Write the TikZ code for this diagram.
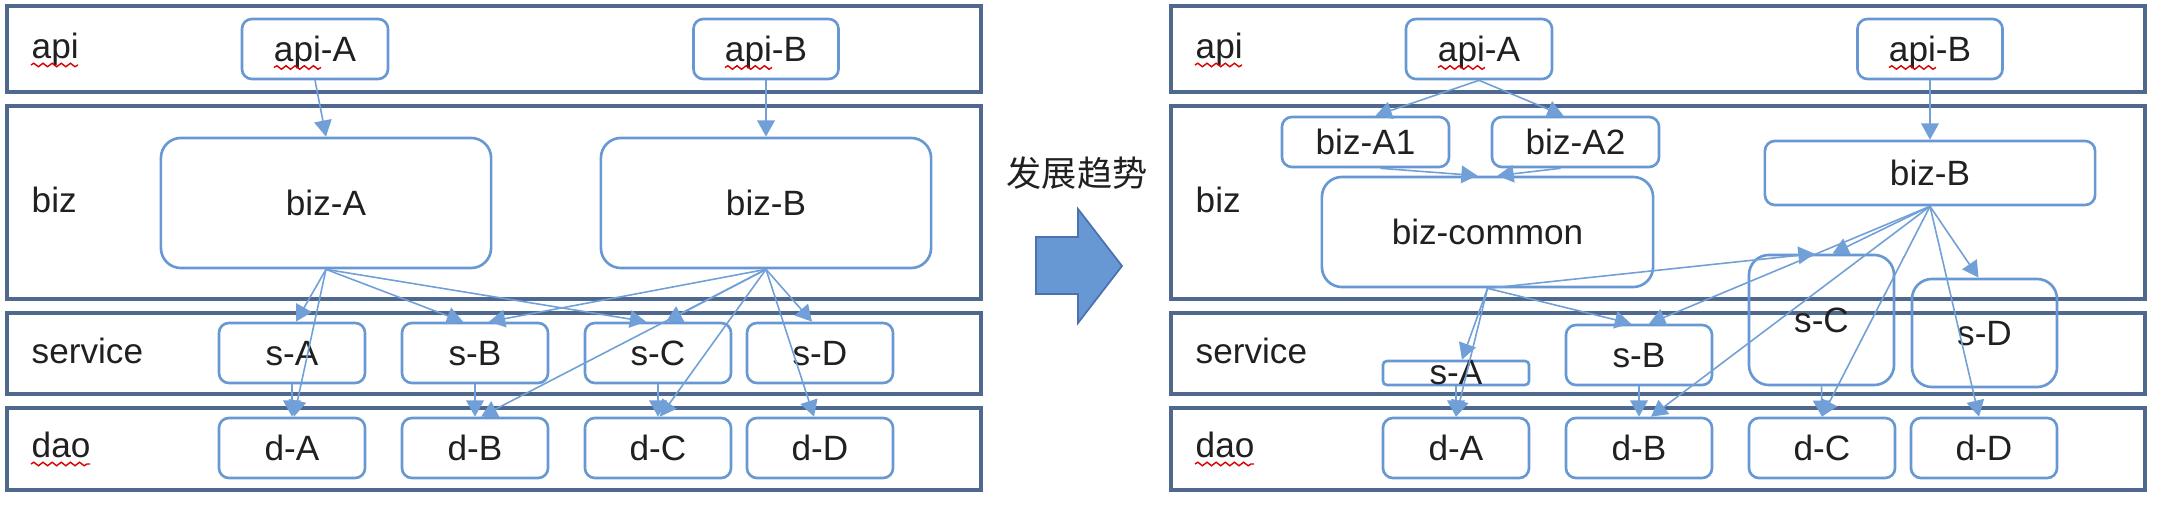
\documentclass[tikz,border=0pt]{standalone}
\usepackage{fontspec}
\setmainfont{Liberation Sans}
\newfontfamily\cjk{Noto Sans CJK SC}
\usepackage{tikz}
\usetikzlibrary{calc,arrows.meta,positioning,decorations.pathmorphing}
\definecolor{layerEdge}{RGB}{78,104,142}
\definecolor{modEdge}{RGB}{104,152,212}
\definecolor{flowBlue}{RGB}{112,160,215}
\definecolor{trendFill}{RGB}{104,152,212}
\definecolor{trendEdge}{RGB}{74,114,176}
\definecolor{txtGray}{RGB}{32,32,32}

\begin{document}
\begin{tikzpicture}[x=0.01cm,y=-0.01cm,
  layer/.style={draw=layerEdge, line width=1pt, minimum width=9.73cm, inner sep=0pt},
  mod/.style={draw=modEdge, line width=0.75pt, rounded corners=0.1cm, text=txtGray,
    text height=0.25cm, text depth=0pt, inner sep=0pt},
  bigmod/.style={mod, rounded corners=0.2cm},
  tag/.style={anchor=base west, inner sep=0pt, text=txtGray},
  flow/.style={draw=flowBlue, line width=0.45pt, -{Triangle[length=4.6pt,width=5pt]}},
  spell/.style={draw=red!85!black, line width=0.4pt, decorate,
    decoration={snake, amplitude=0.5pt, segment length=2.6pt}}]
\useasboundingbox (0,0) rectangle (2166,510);

% layers, labels and the rows both sides share
\foreach \s/\ox in {L/0,R/1164}{
  \node[layer, minimum height=0.86cm] (\s-api) at (494+\ox,49) {};
  \node[layer, minimum height=1.93cm] (\s-biz) at (494+\ox,202.5) {};
  \node[layer, minimum height=0.81cm] (\s-svc) at (494+\ox,353.5) {};
  \node[layer, minimum height=0.82cm] (\s-dao) at (494+\ox,449) {};
  \node[tag] (\s-tapi) at (31+\ox,59) {api};
  \node[tag] (\s-tbiz) at (31+\ox,213) {biz};
  \node[tag] (\s-tsvc) at (31+\ox,364) {service};
  \node[tag] (\s-tdao) at (31+\ox,458) {dao};
  \node[mod, minimum width=1.46cm, minimum height=0.6cm] (\s-apiA) at (315+\ox,49) {api-A};
  \node[mod, minimum width=1.45cm, minimum height=0.6cm] (\s-apiB) at (766+\ox,49) {api-B};
  \node[mod, minimum width=1.46cm, minimum height=0.6cm] (\s-dA) at (292+\ox,448) {d-A};
  \node[mod, minimum width=1.46cm, minimum height=0.6cm] (\s-dB) at (475+\ox,448) {d-B};
  \node[mod, minimum width=1.46cm, minimum height=0.6cm] (\s-dC) at (658+\ox,448) {d-C};
  \node[mod, minimum width=1.46cm, minimum height=0.6cm] (\s-dD) at (820+\ox,448) {d-D};
  % spell-check marks
  \draw[spell] ($(\s-tapi.base west)+(0,6)$) -- ++(47,0);
  \draw[spell] ($(\s-tdao.base west)+(0,6)$) -- ++(59,0);
  \draw[spell] ($(\s-apiA.base)+(-41,6)$) -- ++(47,0);
  \draw[spell] ($(\s-apiB.base)+(-41,6)$) -- ++(47,0);
}

% left: before
\node[bigmod, minimum width=3.3cm, minimum height=1.3cm] (L-bizA) at (326,203) {biz-A};
\node[bigmod, minimum width=3.3cm, minimum height=1.3cm] (L-bizB) at (766,203) {biz-B};
\node[mod, minimum width=1.46cm, minimum height=0.6cm] (L-sA) at (292,353) {s-A};
\node[mod, minimum width=1.46cm, minimum height=0.6cm] (L-sB) at (475,353) {s-B};
\node[mod, minimum width=1.46cm, minimum height=0.6cm] (L-sC) at (658,353) {s-C};
\node[mod, minimum width=1.46cm, minimum height=0.6cm] (L-sD) at (820,353) {s-D};

\draw[flow] (L-apiA.south) -- (L-bizA.north);
\draw[flow] (L-apiB.south) -- (L-bizB.north);
\draw[flow] (L-bizA.south) -- ($(L-sA.north)+(4,0)$);
\draw[flow] (L-bizA.south) -- ($(L-dA.north)+(2,0)$);
\draw[flow] (L-bizA.south) -- ($(L-sB.north)+(-12,0)$);
\draw[flow] (L-bizA.south) -- ($(L-sC.north)+(-12,0)$);
\draw[flow] (L-bizB.south) -- ($(L-sB.north)+(14,0)$);
\draw[flow] (L-bizB.south) -- ($(L-sC.north)+(8,0)$);
\draw[flow] (L-bizB.south) -- ($(L-sD.north)+(-8,0)$);
\draw[flow] (L-bizB.south) -- ($(L-dB.north)+(6,0)$);
\draw[flow] (L-bizB.south) -- ($(L-dC.north)+(2,0)$);
\draw[flow] (L-bizB.south) -- ($(L-dD.north)+(-6,0)$);
\draw[flow] (L-sA.south) -- (L-dA.north);
\draw[flow] (L-sB.south) -- (L-dB.north);
\draw[flow] (L-sC.south) -- (L-dC.north);

% middle
\node[font=\cjk, text=txtGray] (trend) at (1077,173) {发展趋势};
\filldraw[fill=trendFill, draw=trendEdge, line width=0.5pt]
  (1036,237) -- (1078,237) -- (1078,209) -- (1122,266) -- (1078,323) -- (1078,294) -- (1036,294) -- cycle;

% right: after
\node[mod, minimum width=1.67cm, minimum height=0.5cm] (R-bizA1) at (1365.5,142) {biz-A1};
\node[mod, minimum width=1.67cm, minimum height=0.5cm] (R-bizA2) at (1575.5,142) {biz-A2};
\node[bigmod, minimum width=3.31cm, minimum height=1.1cm] (R-bizC) at (1487.5,232) {biz-common};
\node[mod, minimum width=3.3cm, minimum height=0.64cm] (R-bizB) at (1930,173) {biz-B};
\node[mod, rounded corners=0.04cm, minimum width=1.46cm, minimum height=0.24cm, text height=0.23cm] (R-sA) at (1456,373) {s-A};
\node[mod, minimum width=1.46cm, minimum height=0.6cm] (R-sB) at (1639,355) {s-B};
\node[bigmod, minimum width=1.45cm, minimum height=1.3cm] (R-sC) at (1821.5,320) {s-C};
\node[bigmod, minimum width=1.45cm, minimum height=1.08cm] (R-sD) at (1984.5,333) {s-D};

\draw[flow] (R-apiA.south) -- ($(R-bizA1.north)+(10,0)$);
\draw[flow] (R-apiA.south) -- ($(R-bizA2.north)+(-12,0)$);
\draw[flow] ($(R-bizA1.south)+(15,0)$) -- ($(R-bizC.north)+(-10,0)$);
\draw[flow] ($(R-bizA2.south)+(-15,0)$) -- ($(R-bizC.north)+(10,0)$);
\draw[flow] (R-apiB.south) -- (R-bizB.north);
\draw[flow] (R-bizC.south) -- ($(R-sA.north)+(6,0)$);
\draw[flow] (R-bizC.south) -- (R-dA.north);
\draw[flow] (R-bizC.south) -- ($(R-sB.north)+(-8,0)$);
\draw[flow] (R-bizC.south) -- ($(R-sC.north)+(-7,0)$);
\draw[flow] (R-bizB.south) -- ($(R-sC.north)+(11,0)$);
\draw[flow] (R-bizB.south) -- ($(R-sB.north)+(10,0)$);
\draw[flow] (R-bizB.south) -- ($(R-dB.north)+(12,0)$);
\draw[flow] (R-bizB.south) -- (R-dC.north);
\draw[flow] (R-bizB.south) -- ($(R-sD.north)+(-6,0)$);
\draw[flow] (R-bizB.south) -- ($(R-dD.north)+(-5,0)$);
\draw[flow] (R-sA.south) -- (R-dA.north);
\draw[flow] (R-sB.south) -- (R-dB.north);
\draw[flow] (R-sC.south) -- (R-dC.north);
\end{tikzpicture}
\end{document}
